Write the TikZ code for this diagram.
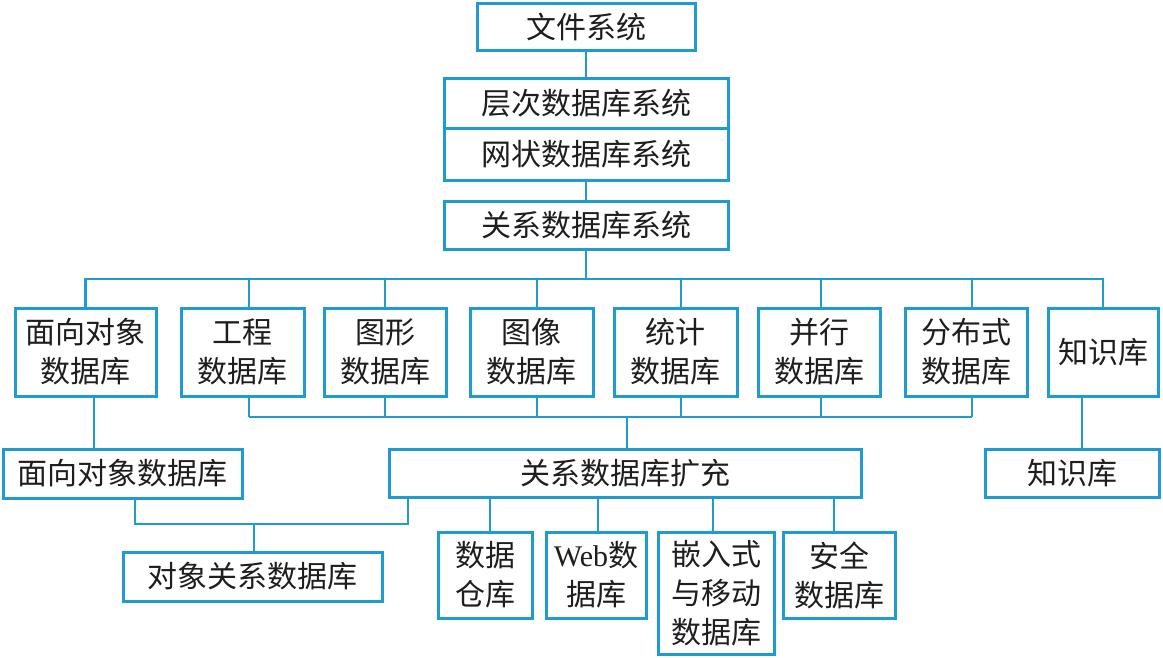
\documentclass[tikz,border=0pt]{standalone}
\usepackage{fontspec}
\setmainfont{Noto Sans CJK SC}
\newfontfamily\latfont{Liberation Serif}
\definecolor{lineblue}{RGB}{30,155,210}
\definecolor{txt}{RGB}{30,30,30}
\tikzset{
  box/.style={draw=lineblue, line width=3pt, fill=white, text=txt, inner sep=0pt, align=center,
    font=\fontsize{30}{39}\selectfont},
  conn/.style={draw=lineblue, line width=2.6pt}
}
\begin{document}
\begin{tikzpicture}[x=1pt,y=-1pt]
\useasboundingbox[fill=white] (0,0) rectangle (1163,657);
% top chain
\node[box, minimum width=218, minimum height=47] (fs) at (586,27) {文件系统};
\node[box, minimum width=284, minimum height=50] (h1) at (586,103) {层次数据库系统};
\node[box, minimum width=284, minimum height=52] (h2) at (586,154) {网状数据库系统};
\node[box, minimum width=284, minimum height=48] (rel) at (586,225) {关系数据库系统};
% second row
\node[box, minimum width=141, minimum height=88] (oo) at (85.5,352) {面向对象\\数据库};
\node[box, minimum width=123, minimum height=88] (eng) at (242.5,352) {工程\\数据库};
\node[box, minimum width=122, minimum height=88] (gr) at (385,352) {图形\\数据库};
\node[box, minimum width=123, minimum height=88] (img) at (531.5,352) {图像\\数据库};
\node[box, minimum width=123, minimum height=88] (st) at (675.5,352) {统计\\数据库};
\node[box, minimum width=122, minimum height=88] (par) at (819,352) {并行\\数据库};
\node[box, minimum width=122, minimum height=88] (dis) at (966,352) {分布式\\数据库};
\node[box, minimum width=110, minimum height=88] (kb) at (1103,352) {知识库};
% third row
\node[box, minimum width=239, minimum height=49] (oo2) at (122.5,473.5) {面向对象数据库};
\node[box, minimum width=472, minimum height=48] (ext) at (625,473) {关系数据库扩充};
\node[box, minimum width=174, minimum height=48] (kb2) at (1072,473) {知识库};
% fourth row
\node[box, minimum width=259, minimum height=49] (orel) at (252.5,576.5) {对象关系数据库};
\node[box, minimum width=94, minimum height=86] (dw) at (485,575) {数据\\仓库};
\node[box, minimum width=100, minimum height=86] (web) at (596,575) {{\latfont Web}数\\据库};
\node[box, minimum width=116, minimum height=122] (emb) at (716,593) {嵌入式\\与移动\\数据库};
\node[box, minimum width=112, minimum height=86] (sec) at (839,575) {安全\\数据库};
% bus coordinates
\coordinate (tb) at (586,279);
\coordinate (bb) at (627,417);
\coordinate (mb) at (254,524);
% connectors
\draw[conn] (fs.south) -- (h1.north);
\draw[conn] (h2.south) -- (rel.south |- rel.north);
\draw[conn] (rel.south) -- (rel.south |- tb);
\draw[conn] (oo.north) |- (kb.north |- tb) -- (kb.north);
\foreach \n/\s in {eng/6.5, gr/0, img/5.5, st/5.5, par/2, dis/6}{
  \draw[conn] ([xshift=\s pt]\n.north) -- ([xshift=\s pt]\n.north |- tb);
  \draw[conn] ([xshift=\s pt]\n.south) -- ([xshift=\s pt]\n.south |- bb);
}
\draw[conn] ([xshift=6.5pt]eng.south |- bb) -- ([xshift=6pt]dis.south |- bb);
\draw[conn] (bb) -- (bb |- ext.north);
\draw[conn] ([xshift=8.5pt]oo.south) -- ([xshift=8.5pt]oo.south |- oo2.north);
\draw[conn] ([xshift=-21pt]kb.south) -- ([xshift=-21pt]kb.south |- kb2.north);
\draw[conn] ([xshift=12.5pt]oo2.south) |- ([xshift=-217pt]ext.south |- mb) -- ([xshift=-217pt]ext.south);
\draw[conn] (mb) -- (mb |- orel.north);
\foreach \n/\s in {dw/5, web/2, emb/-3, sec/-5}{
  \draw[conn] ([xshift=\s pt]\n.north) -- ([xshift=\s pt]\n.north |- ext.south);
}
\end{tikzpicture}
\end{document}
